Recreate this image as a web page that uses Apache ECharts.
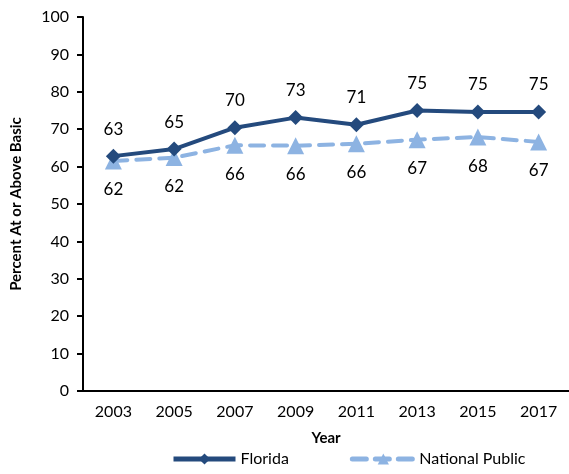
<!DOCTYPE html>
<html><head><meta charset="utf-8">
<script src="https://cdn.jsdelivr.net/npm/echarts@6/dist/echarts.min.js"></script>
<style>html,body{margin:0;padding:0;background:#fff}#c{width:569px;height:474px}</style>
</head><body><div id="c"></div>
<script>
const years = ['2003','2005','2007','2009','2011','2013','2015','2017'];
const florida = [62.8, 64.7, 70.4, 73.1, 71.2, 75.0, 74.6, 74.6];
const national = [61.5, 62.4, 65.7, 65.6, 66.1, 67.2, 67.9, 66.6];
const FONT = 'Lato';
const chart = echarts.init(document.getElementById('c'));
chart.setOption({
  animation: false,
  textStyle: {fontFamily: FONT},
  grid: {left: 83, right: 0, top: 17, bottom: 83, outerBoundsMode: 'none', containLabel: false},
  legend: {
    bottom: 2, left: 166, itemWidth: 62, itemHeight: 14, itemGap: 61,
    lineStyle: {width: 5},
    textStyle: {fontFamily: FONT, fontSize: 16, color: '#000'},
    data: ['Florida', 'National Public']
  },
  xAxis: {
    type: 'category', data: years, boundaryGap: true,
    name: 'Year', nameLocation: 'middle', nameGap: 40,
    nameTextStyle: {fontFamily: FONT, fontWeight: 'bold', fontSize: 15, color: '#000'},
    axisLine: {lineStyle: {color: '#000', width: 2}},
    axisTick: {alignWithLabel: true, length: 6, lineStyle: {color: '#000', width: 2}},
    axisLabel: {fontFamily: FONT, fontSize: 16, color: '#000', margin: 13}
  },
  yAxis: {
    type: 'value', min: 0, max: 100, interval: 10,
    name: 'Percent At or Above Basic', nameLocation: 'middle', nameGap: 59,
    nameTextStyle: {fontFamily: FONT, fontWeight: 'bold', fontSize: 15, color: '#000'},
    axisLine: {show: true, lineStyle: {color: '#000', width: 2}},
    axisTick: {show: true, length: 6, lineStyle: {color: '#000', width: 2}},
    axisLabel: {fontFamily: FONT, fontSize: 16, color: '#000', margin: 14},
    splitLine: {show: false}
  },
  series: [
    {
      name: 'Florida', type: 'line', data: florida,
      symbol: 'diamond', symbolSize: 15,
      lineStyle: {color: '#244A7D', width: 4},
      itemStyle: {color: '#244A7D'},
      label: {show: true, position: 'top', distance: 11, fontFamily: FONT, fontSize: 17, color: '#000',
        formatter: p => Math.round(p.value)},
      z: 3
    },
    {
      name: 'National Public', type: 'line', data: national,
      symbol: 'triangle', symbolSize: 17,
      lineStyle: {color: '#8DB3E2', width: 4, type: [14, 9], cap: 'round'},
      itemStyle: {color: '#8DB3E2'},
      label: {show: true, position: 'bottom', distance: 12, fontFamily: FONT, fontSize: 17, color: '#000',
        formatter: p => Math.round(p.value)},
      z: 2
    }
  ]
});
</script></body></html>
